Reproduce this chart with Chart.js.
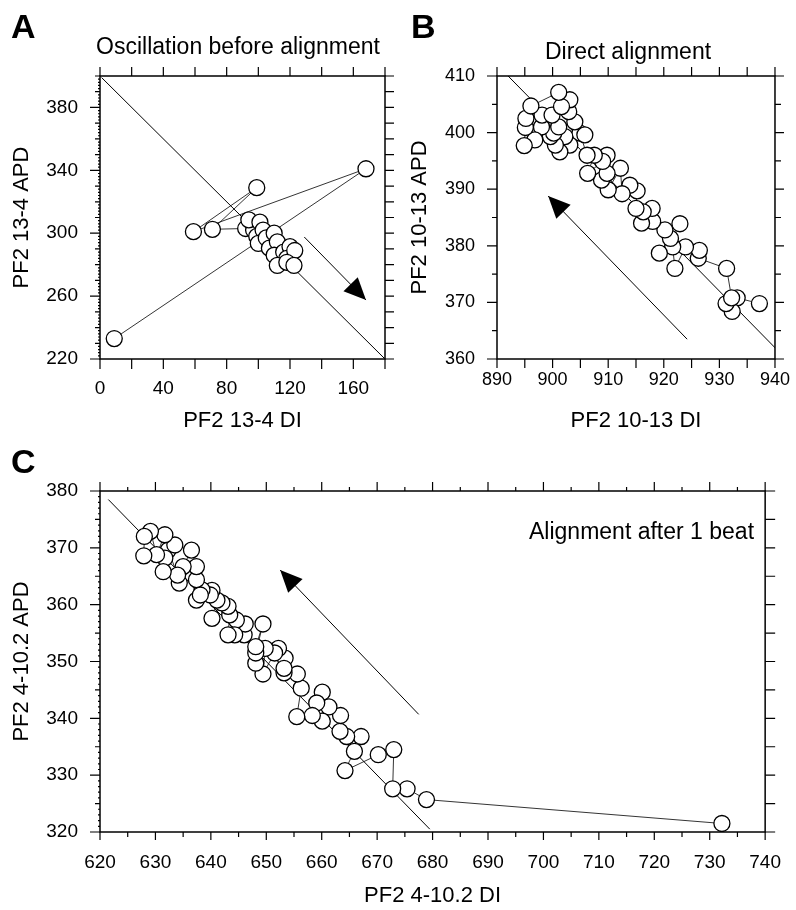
<!DOCTYPE html>
<html>
<head>
<meta charset="utf-8">
<script src="https://cdn.jsdelivr.net/npm/chart.js@4.4.1/dist/chart.umd.min.js"></script>
<style>
  html, body { margin: 0; padding: 0; background: #fff; }
  body { width: 796px; height: 910px; position: relative; overflow: hidden;
         font-family: 'Liberation Sans', Arial, sans-serif; color: #000; }
  canvas { position: absolute; }
  .lbl { position: absolute; font-weight: bold; font-size: 34px; line-height: 34px; }
  .ttl { position: absolute; font-size: 23px; line-height: 23px; white-space: nowrap; }
</style>
</head>
<body>
<canvas id="chartA" width="400" height="440" style="left:0;top:0"></canvas>
<canvas id="chartB" width="400" height="440" style="left:400px;top:0"></canvas>
<canvas id="chartC" width="800" height="470" style="left:0;top:440px"></canvas>

<div class="lbl" style="left:11px;top:9px">A</div>
<div class="lbl" style="left:411px;top:9px">B</div>
<div class="lbl" style="left:11px;top:444px">C</div>
<div class="ttl" style="left:38px;top:35px;width:400px;text-align:center">Oscillation before alignment</div>
<div class="ttl" style="left:428px;top:40px;width:400px;text-align:center">Direct alignment</div>
<div class="ttl" style="left:529px;top:520px">Alignment after 1 beat</div>

<script>
// Panel A: oscillation before alignment (CL 400)
const diA  = [9, 168, 59, 99, 71, 92, 97, 94, 101, 99, 103, 100, 105, 110, 107, 112, 110, 116, 120, 118, 123, 112, 118, 122.5];
const apdA = [233, 341, 301, 329, 302.5, 303, 302, 308.5, 307, 298, 302, 293.5, 297, 300, 290.5, 294.5, 286, 288, 291.5, 284, 289, 279.5, 281.5, 279.5];
const lineAx = [1, 180];
const lineAy = [399, 220];
const arrowAx = [129, 168];
const arrowAy = [297.6, 257.5];
const xTicksA = [0, 40, 80, 120, 160];
const yTicksA = [220, 260, 300, 340, 380];

// Panel B: direct alignment
const diB  = [937.2, 933.2, 932.3, 931.2, 932.2, 931.3, 926.2, 926.4, 923.9, 922.0, 921.6, 919.2, 921.2, 922.9, 920.2,
              918.0, 916.0, 917.9, 916.3, 915.0, 915.2, 913.9, 912.5, 912.2, 910.0, 908.8, 909.8, 909.8, 909.0, 906.3,
              907.5, 906.2, 904.9, 905.8, 904.0, 903.1, 901.3, 902.2, 900.5, 899.6, 900.2, 901.1, 898.0, 896.8, 894.9,
              895.1, 895.2, 898.1, 899.9, 902.9, 903.1, 901.6, 901.1, 896.1];
const apdB = [369.8, 370.8, 368.4, 369.8, 370.8, 376.0, 377.8, 379.2, 379.8, 376.0, 379.8, 378.7, 381.3, 383.9, 382.8,
              384.3, 384.0, 386.6, 386.0, 386.6, 389.7, 390.7, 389.2, 393.7, 389.9, 391.6, 392.8, 396.0, 394.9, 392.8,
              396.0, 396.0, 399.9, 399.6, 401.9, 397.8, 396.6, 399.3, 397.8, 399.3, 399.9, 401.0, 401.0, 398.7, 397.7,
              400.9, 402.5, 403.1, 403.1, 403.7, 405.8, 404.6, 407.1, 404.7];
const lineBx = [892, 940.5];
const lineBy = [410, 361.5];
const arrowBx = [924.2, 899.2];
const arrowBy = [363.5, 388.8];
const xTicksB = [890, 900, 910, 920, 930, 940];
const yTicksB = [360, 370, 380, 390, 400, 410];

// Panel C: alignment after 1 beat
const diC  = [732.2, 678.9, 675.4, 672.8, 673.0, 670.2, 664.2, 667.1, 665.9, 664.5,
              663.3, 663.4, 661.3, 660.1, 660.1, 659.1, 658.3, 655.5, 656.3, 655.6,
              653.2, 653.4, 653.2, 652.2, 651.5, 649.4, 649.8, 648.1, 648.1, 649.4,
              648.1, 646.0, 646.2, 644.6, 644.3, 643.1, 643.4, 643.1, 642.0, 640.2,
              641.1, 640.2, 639.9, 638.4, 637.4, 638.1, 637.4, 637.4, 636.5, 635.0,
              634.3, 634.0, 632.3, 633.5, 631.7, 631.4, 631.7, 630.2, 629.1, 628.0, 627.9];
const apdC = [321.5, 325.7, 327.6, 327.6, 334.5, 333.6, 330.8, 336.8, 334.2, 336.8,
              337.7, 340.5, 342.0, 339.5, 344.6, 342.7, 340.5, 340.3, 345.3, 347.8,
              348.0, 350.6, 348.8, 352.3, 351.5, 347.8, 352.3, 349.7, 351.5, 356.6,
              352.6, 354.7, 356.6, 357.3, 354.7, 354.7, 358.2, 359.7, 360.3, 357.6,
              360.8, 362.5, 361.7, 362.6, 360.8, 361.7, 364.4, 366.7, 369.6, 366.7,
              363.8, 365.2, 369.6, 370.5, 368.2, 365.8, 372.3, 368.8, 372.9, 372.0, 368.6];
const lineCx = [621.5, 679.5];
const lineCy = [378.5, 320.5];
const arrowCx = [677.5, 652.5];
const arrowCy = [340.7, 366.1];
const xTicksC = [620, 630, 640, 650, 660, 670, 680, 690, 700, 710, 720, 730, 740];
const yTicksC = [320, 330, 340, 350, 360, 370, 380];

Chart.defaults.font.family = "'Liberation Sans', Arial, sans-serif";
Chart.defaults.color = '#000';

// box around the plot with outward tick marks on every side
const frameTicks = {
  id: 'frameTicks',
  afterDatasetsDraw(chart, args, opts) {
    const {ctx, chartArea: a, scales} = chart;
    ctx.save();
    ctx.strokeStyle = '#000';
    ctx.lineWidth = 1.5;
    ctx.strokeRect(a.left, a.top, a.right - a.left, a.bottom - a.top);
    ctx.lineWidth = 1.2;
    ctx.beginPath();
    Object.entries(opts.sides || {}).forEach(([side, marks]) => {
      const sc = (side === 'bottom' || side === 'top') ? scales.x : scales.y;
      marks.forEach(([step, len, base = 0]) => {
        const first = base + Math.ceil((sc.min - base) / step - 1e-6) * step;
        for (let v = first; v <= sc.max + 1e-6; v += step) {
          const p = sc.getPixelForValue(v);
          if (side === 'bottom') { ctx.moveTo(p, a.bottom); ctx.lineTo(p, a.bottom + len); }
          if (side === 'top') { ctx.moveTo(p, a.top); ctx.lineTo(p, a.top - len); }
          if (side === 'left') { ctx.moveTo(a.left, p); ctx.lineTo(a.left - len, p); }
          if (side === 'right') { ctx.moveTo(a.right, p); ctx.lineTo(a.right + len, p); }
        }
      });
    });
    ctx.stroke();
    ctx.restore();
  }
};

// filled triangle at the end of the arrow dataset
const arrowHead = {
  id: 'arrowHead',
  afterDatasetsDraw(chart, args, opts) {
    if (opts.dataset == null) return;
    const pts = chart.getDatasetMeta(opts.dataset).data;
    const tail = pts[0], tip = pts[pts.length - 1];
    const ang = Math.atan2(tip.y - tail.y, tip.x - tail.x);
    const L = 22, W = 10;
    const bx = tip.x - L * Math.cos(ang), by = tip.y - L * Math.sin(ang);
    const ctx = chart.ctx;
    ctx.save();
    ctx.fillStyle = '#000';
    ctx.beginPath();
    ctx.moveTo(tip.x, tip.y);
    ctx.lineTo(bx + W * Math.sin(ang), by - W * Math.cos(ang));
    ctx.lineTo(bx - W * Math.sin(ang), by + W * Math.cos(ang));
    ctx.closePath();
    ctx.fill();
    ctx.restore();
  }
};

Chart.register(frameTicks, arrowHead);

function toXY(xs, ys) {
  return xs.map((v, i) => ({x: v, y: ys[i]}));
}

function panel(id, o) {
  return new Chart(document.getElementById(id), {
    type: 'scatter',
    data: {
      datasets: [
        { data: toXY(o.di, o.apd), showLine: true, borderColor: '#000', borderWidth: 0.8,
          pointRadius: 8, pointBackgroundColor: '#fff', pointBorderColor: '#000', pointBorderWidth: 1.3 },
        { data: toXY(o.lineX, o.lineY), showLine: true, borderColor: '#000', borderWidth: 1, pointRadius: 0 },
        { data: toXY(o.arrX, o.arrY), showLine: true, borderColor: '#000', borderWidth: 1, pointRadius: 0 }
      ]
    },
    options: {
      responsive: false,
      animation: false,
      events: [],
      layout: { padding: o.pad },
      plugins: {
        legend: { display: false },
        tooltip: { enabled: false },
        frameTicks: { sides: o.sides },
        arrowHead: { dataset: 2 }
      },
      scales: {
        x: {
          type: 'linear', position: 'bottom', min: o.xMin, max: o.xMax,
          grid: { display: false, drawTicks: false }, border: { display: false },
          ticks: { font: { size: o.tickSize }, padding: o.xPad, maxRotation: 0, autoSkip: false },
          afterBuildTicks: s => { s.ticks = o.xTicks.map(v => ({value: v})); },
          afterFit: s => { s.height = o.xH; },
          title: { display: true, text: o.xTitle, font: { size: 22 }, padding: { top: 0, bottom: o.xTitlePad } }
        },
        y: {
          type: 'linear', position: 'left', min: o.yMin, max: o.yMax,
          grid: { display: false, drawTicks: false }, border: { display: false },
          ticks: { font: { size: o.tickSize }, padding: 22, autoSkip: false },
          afterBuildTicks: s => { s.ticks = o.yTicks.map(v => ({value: v})); },
          afterFit: s => { s.width = o.yW; },
          title: { display: true, text: o.yTitle, font: { size: 22 }, padding: { top: o.yTitlePad, bottom: 0 } }
        }
      }
    }
  });
}

panel('chartA', {
  di: diA, apd: apdA, lineX: lineAx, lineY: lineAy, arrX: arrowAx, arrY: arrowAy,
  xMin: 0, xMax: 180, yMin: 220, yMax: 400, xTicks: xTicksA, yTicks: yTicksA,
  xTitle: 'PF2 13-4 DI', yTitle: 'PF2 13-4 APD',
  pad: { left: 0, top: 76, right: 15, bottom: 0 }, xH: 81, yW: 100,
  tickSize: 19, xPad: 18, xTitlePad: 6, yTitlePad: 9,
  sides: { bottom: [[20, 10]], top: [[20, 9]], left: [[2, 2], [10, 5], [40, 10, 220]], right: [[10, 9]] }
});

panel('chartB', {
  di: diB, apd: apdB, lineX: lineBx, lineY: lineBy, arrX: arrowBx, arrY: arrowBy,
  xMin: 890, xMax: 940, yMin: 360, yMax: 410, xTicks: xTicksB, yTicks: yTicksB,
  xTitle: 'PF2 10-13 DI', yTitle: 'PF2 10-13 APD',
  pad: { left: 0, top: 76, right: 18, bottom: 0 }, xH: 81, yW: 97,
  tickSize: 18, xPad: 10, xTitlePad: 6, yTitlePad: 7,
  sides: { bottom: [[5, 9]], top: [[5, 9]], left: [[5, 5], [10, 10]], right: [[5, 6], [10, 9]] }
});

panel('chartC', {
  di: diC, apd: apdC, lineX: lineCx, lineY: lineCy, arrX: arrowCx, arrY: arrowCy,
  xMin: 620, xMax: 740, yMin: 320, yMax: 380, xTicks: xTicksC, yTicks: yTicksC,
  xTitle: 'PF2 4-10.2 DI', yTitle: 'PF2 4-10.2 APD',
  pad: { left: 0, top: 51, right: 16, bottom: 0 }, xH: 78, yW: 100,
  tickSize: 19, xPad: 19, xTitlePad: 1, yTitlePad: 9,
  sides: { bottom: [[5, 5], [10, 8]], top: [[5, 4], [10, 9]], left: [[1, 2], [5, 5], [10, 10]], right: [[5, 10]] }
});
</script>
</body>
</html>
